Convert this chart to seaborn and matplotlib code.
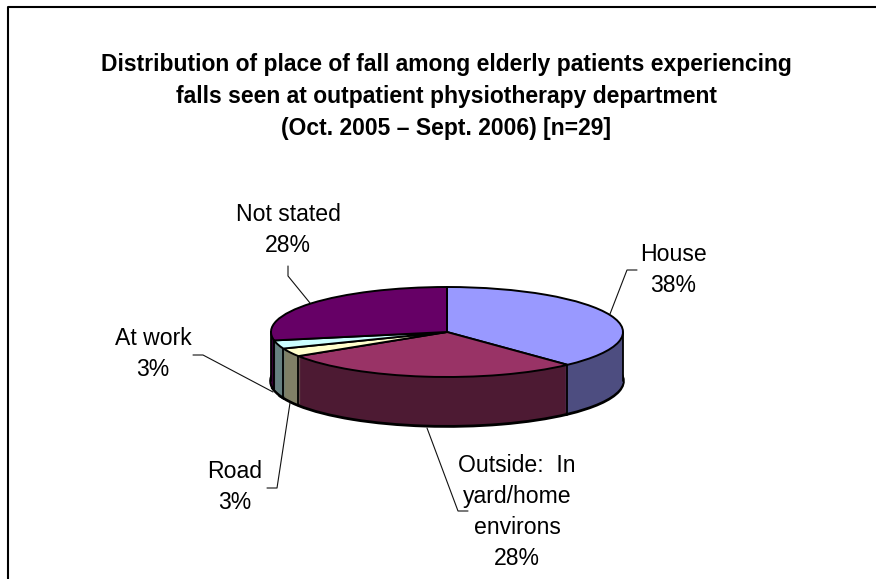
import numpy as np
import matplotlib
matplotlib.use("Agg")
import matplotlib.pyplot as plt
from matplotlib.transforms import Affine2D
import seaborn as sns

# Data
places = ['House', 'Outside:  In\nyard/home\nenvirons', 'Road', 'At work', 'Not stated']
percent = [38, 28, 3, 3, 28]
top_colors = ['#9999FF', '#993366', '#FFFFCC', '#CCFFFF', '#660066']

title_lines = [
    'Distribution of place of fall among elderly patients experiencing',
    'falls seen at outpatient physiotherapy department',
    '(Oct. 2005 \u2013 Sept. 2006) [n=29]',
]

# Layout in image pixels
W, H = 876, 579
CX, CY = 447, 332
RX, RY = 176, 45
DEPTH = 49

label_pos = [(673, 270), (517, 512), (235, 487), (153, 354), (288, 230)]
leaders = [
    [(637, 270), (627, 270), (610, 314)],
    [(468, 511), (458, 511), (427, 428)],
    [(267, 488), (277, 488), (290, 403)],
    [(193, 355), (203, 355), (273, 392)],
    [(288, 266), (288, 276), (310, 303)],
]

sns.set_theme(style='white')
plt.rcParams['font.family'] = ['Liberation Sans', 'DejaVu Sans']

fig = plt.figure(figsize=(W / 100, H / 100), dpi=100, facecolor='white')
ax = fig.add_axes([0, 0, 1, 1])

palette = sns.color_palette(top_colors)
wall_colors = [tuple(np.array(c) * 0.5) for c in palette]
pie_args = dict(startangle=90, counterclock=False)

# side wall: pile of pies going up to the rim, bottom one carries the outline
ax.pie(percent, colors=wall_colors, center=(0, -DEPTH / RY), **pie_args,
       wedgeprops=dict(edgecolor='black', linewidth=2.6))
for d in range(DEPTH - 1, 0, -1):
    ax.pie(percent, colors=wall_colors, center=(0, -d / RY), **pie_args,
           wedgeprops=dict(linewidth=0))

wedges, _ = ax.pie(percent, colors=palette, **pie_args,
                   wedgeprops=dict(edgecolor='black', linewidth=1.4))

# vertical edges on the front of the wall
edge_angles = [0, 180]
for w in wedges:
    if np.sin(np.radians(w.theta1)) < 0:
        edge_angles.append(w.theta1)
for a in edge_angles:
    x = np.cos(np.radians(a))
    y = np.sin(np.radians(a))
    ax.plot([x, x], [y, y - DEPTH / RY], color='black', lw=1.3, zorder=3)

# stretch unit circle into the flattened ellipse
ax.set_aspect('auto')
ax.set_xlim(-CX / RX, (W - CX) / RX)
ax.set_ylim(-(H - CY) / RY, CY / RY)
ax.axis('off')

# helper transform: image pixels, y down
px = Affine2D().scale(1 / W, -1 / H).translate(0, 1) + fig.transFigure

for pts in leaders:
    xs, ys = zip(*pts)
    ax.plot(xs, ys, color='#111111', lw=0.8, transform=px, zorder=4, clip_on=False)

for name, pct, (x, y) in zip(places, percent, label_pos):
    ax.text(x, y, f'{name}\n{pct}%', transform=px, ha='center', va='center',
            fontsize=16.6, linespacing=1.45, color='black')

for line, y in zip(title_lines, [65, 96, 128]):
    ax.text(446, y, line, transform=px, ha='center', va='center',
            fontsize=16.5, fontweight='bold', color='black')

# chart frame: only left and top edges show in the crop
ax.plot([8, 8, W + 5], [H + 5, 7, 7], color='black', lw=1.5,
        transform=px, zorder=5, clip_on=False)

fig.savefig('out.png', dpi=100)
